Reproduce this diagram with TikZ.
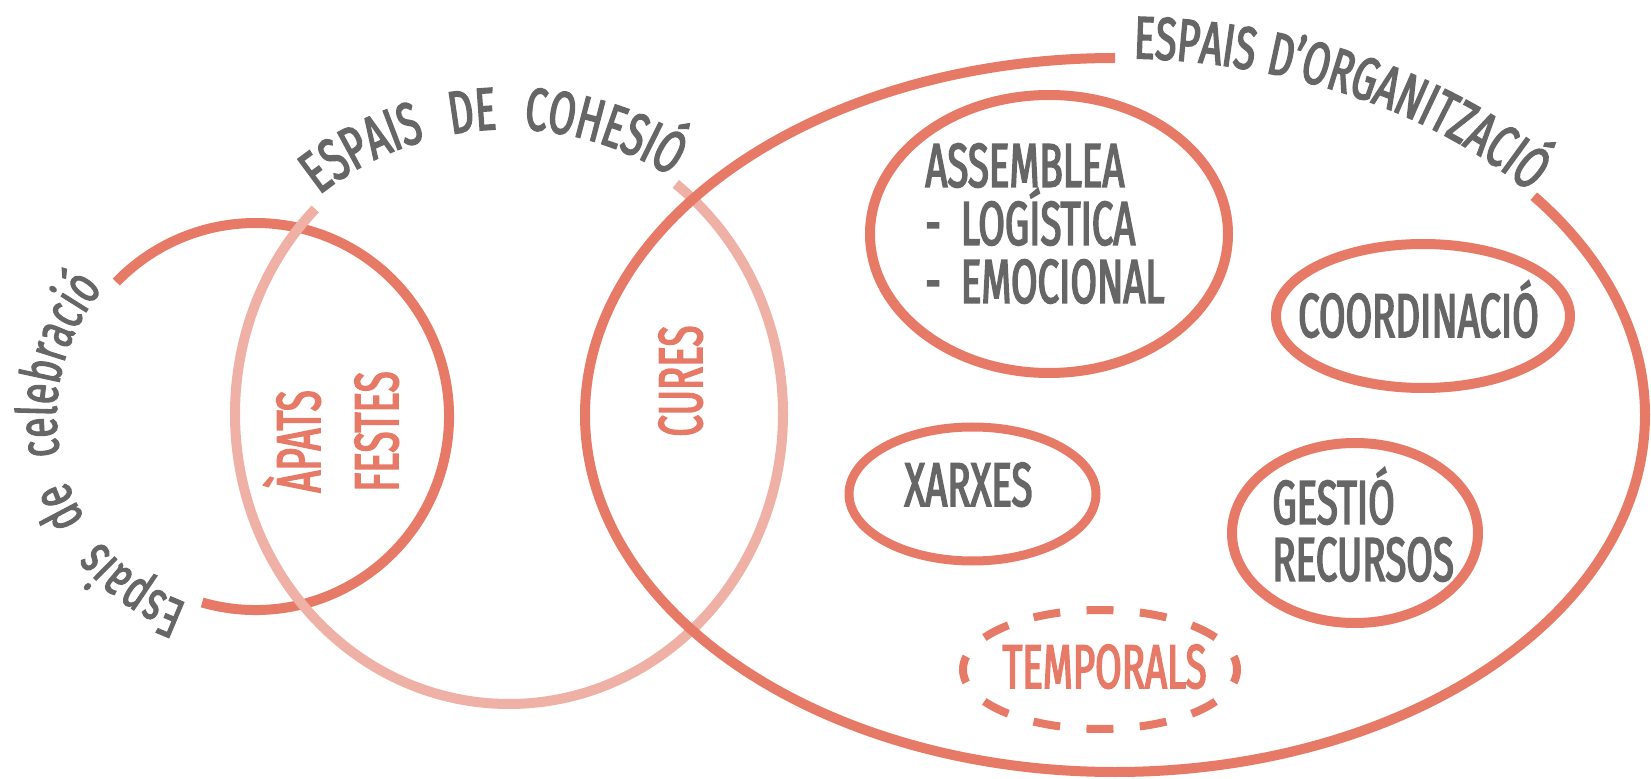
\documentclass[tikz,border=0pt]{standalone}
\usepackage{fontspec}
\usetikzlibrary{shapes.geometric}
\usetikzlibrary{decorations.text}
\newfontfamily\capsfont[FakeStretch=0.62,FakeBold=2.5]{Fira Sans}
\newfontfamily\arcfont[FakeStretch=0.65,FakeBold=2.5]{Fira Sans}
\newfontfamily\lowfont[FakeStretch=0.67,FakeBold=2]{Fira Sans}
\definecolor{salmon}{HTML}{E67A66}
\definecolor{palesalmon}{HTML}{EFB0A5}
\definecolor{inkgray}{HTML}{666666}

\begin{document}
\begin{tikzpicture}[x=0.5pt,y=0.5pt,
        ring/.style={draw=salmon,line width=5pt},
        palering/.style={draw=palesalmon,line width=5pt},
        oval/.style={ellipse,draw=salmon,line width=5pt,inner sep=0pt},
        graylabel/.style={text=inkgray,inner sep=0pt,font=\capsfont\fontsize{31}{29}\selectfont},
        salmonlabel/.style={text=salmon,inner sep=0pt,font=\capsfont\fontsize{31}{29}\selectfont},
        curvetext/.style={decorate,decoration={text along path,text color=inkgray,
            text align={fit to path stretching spaces},text={#1}}}]
    \useasboundingbox (0,0) rectangle (1651,778);

    % the three big spaces
    \coordinate (celeb) at (255.5,361.5);
    \coordinate (cohes) at (509,364);
    \coordinate (organ) at (1115,363);
    \draw[ring]     (celeb) ++(-106:193.5) arc[start angle=-106,end angle=136,radius=193.5];
    \draw[palering] (cohes) ++(135:274 and 290) arc[start angle=135,end angle=412.5,x radius=274,y radius=290];
    \draw[ring]     (organ) ++(90:530 and 357) arc[start angle=90,end angle=397.8,x radius=530,y radius=357];

    % their names, written along the gaps
    \path[curvetext={|\lowfont\fontsize{28}{28}\selectfont|Espais de celebració}]
        (celeb) ++(250:199) arc[start angle=250,end angle=140,radius=199];
    \path[curvetext={|\arcfont\fontsize{30}{30}\selectfont|ESPAIS DE COHESIÓ}]
        (508,346) ++(128.5:303) arc[start angle=128.5,end angle=57.5,radius=303];
    \path[curvetext={|\arcfont\fontsize{30}{30}\selectfont|ESPAIS D’ORGANITZACIÓ}]
        (organ) ++(88:530 and 357) arc[start angle=88,end angle=38.6,x radius=530,y radius=357];

    % the smaller spaces inside
    \node (assemblea)   [oval,minimum width=179pt,minimum height=139pt] at (1049,544) {};
    \node (coordinacio) [oval,minimum width=147pt,minimum height=72pt] at (1423,462) {};
    \node (xarxes)      [oval,line width=4.5pt,minimum width=123.5pt,minimum height=67pt] at (972.5,284) {};
    \node (gestio)      [oval,minimum width=123pt,minimum height=90pt] at (1355,245) {};
    \node (temporals)   [oval,line width=4pt,dash pattern=on 13.5pt off 13.23pt,dash phase=6.75pt,
                         minimum width=137pt,minimum height=59.5pt] at (1100,108.5) {};

    \node (assembleatext) [graylabel,align=left,anchor=south west] at (925,474)
        {ASSEMBLEA\\-\hspace{10pt}LOGÍSTICA\\-\hspace{10pt}EMOCIONAL};
    \node (coordtext)  [graylabel,anchor=base] at (1418.5,441) {COORDINACIÓ};
    \node (xarxestext) [graylabel,anchor=base] at (968.5,272) {XARXES};
    \node (gestiotext) [graylabel,align=left,anchor=south west,
                        font=\capsfont\fontsize{31}{28.5}\selectfont] at (1272,196) {GESTIÓ\\RECURSOS};
    \node (temptext)   [salmonlabel,anchor=base] at (1104.5,90) {TEMPORALS};

    \node (apats)  [salmonlabel,rotate=90,anchor=base west] at (320,285) {ÀPATS};
    \node (festes) [salmonlabel,rotate=90,anchor=base west] at (398,286) {FESTES};
    \node (cures)  [salmonlabel,rotate=90,anchor=base west] at (702,341) {CURES};
\end{tikzpicture}
\end{document}
